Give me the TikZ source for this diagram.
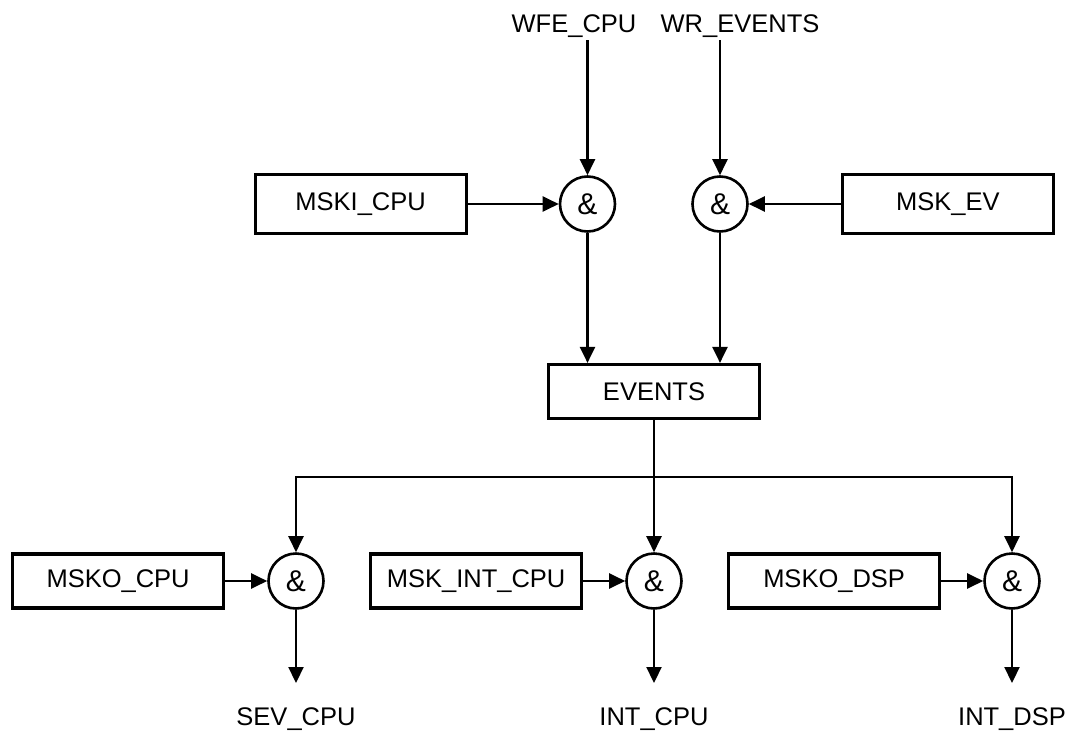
\documentclass[tikz,border=0pt]{standalone}
\usepackage{fontspec}
\setmainfont{Liberation Sans}
\usetikzlibrary{positioning, arrows.meta}

\begin{document}
\begin{tikzpicture}[
    x=1pt, y=1pt,
    font=\fontsize{25.5}{30}\selectfont,
    mask/.style={rectangle, draw, line width=3.2pt, minimum width=211pt, minimum height=54pt, inner sep=0pt},
    gate/.style={circle, draw, line width=2.6pt, minimum size=55pt, inner sep=0pt, font=\fontsize{30}{36}\selectfont},
    sig/.style={inner sep=3pt},
    arrow/.style={-{Triangle[length=16pt, width=15pt]}, line width=2.2pt}
]
    \useasboundingbox (0,0) rectangle (1072,-734);

    % Input gates
    \node[gate] (gA) at (587.5,-204) {\&};
    \node[gate] (gB) at (720,-204) {\&};
    \node[mask, minimum height=59pt, left=91pt of gA] (mskicpu) {MSKI\_CPU};
    \node[mask, minimum height=59pt, right=92pt of gB] (mskev) {MSK\_EV};

    % Input signals
    \node[sig, anchor=base] (wfecpu) at (574,-32) {WFE\_CPU};
    \node[sig, anchor=base] (wrevents) at (740,-32) {WR\_EVENTS};

    % Event register
    \node[mask] (events) at (654,-391.5) {EVENTS};

    % Output gates
    \node[gate] (g1) at (296,-581) {\&};
    \node[gate] (g2) at (654,-581) {\&};
    \node[gate] (g3) at (1012,-581) {\&};
    \node[mask, left=42pt of g1] (mskocpu) {MSKO\_CPU};
    \node[mask, left=42pt of g2] (mskintcpu) {MSK\_INT\_CPU};
    \node[mask, left=42pt of g3] (mskodsp) {MSKO\_DSP};

    % Output signals
    \coordinate (o1) at (296,-683);
    \coordinate (o2) at (654,-683);
    \coordinate (o3) at (1012,-683);
    \node[sig, below=21pt of o1] (sevcpu) {SEV\_CPU};
    \node[sig, below=21pt of o2] (intcpu) {INT\_CPU};
    \node[sig, below=21pt of o3] (intdsp) {INT\_DSP};

    % Connections
    \draw[arrow] (wfecpu.south -| gA) -- (gA.north);
    \draw[arrow] (wrevents.south -| gB) -- (gB.north);
    \draw[arrow] (mskicpu.east) -- (gA.west);
    \draw[arrow] (mskev.west) -- (gB.east);
    \draw[arrow] (gA.south) -- (gA.south |- events.north);
    \draw[arrow] (gB.south) -- (gB.south |- events.north);

    \draw[arrow] (events.south) -- (g2.north);
    \draw[arrow] (events.south) -- ++(0,-57) -| (g1.north);
    \draw[arrow] (events.south) -- ++(0,-57) -| (g3.north);

    \draw[arrow] (mskocpu.east) -- (g1.west);
    \draw[arrow] (mskintcpu.east) -- (g2.west);
    \draw[arrow] (mskodsp.east) -- (g3.west);

    \draw[arrow] (g1.south) -- (o1);
    \draw[arrow] (g2.south) -- (o2);
    \draw[arrow] (g3.south) -- (o3);
\end{tikzpicture}
\end{document}
